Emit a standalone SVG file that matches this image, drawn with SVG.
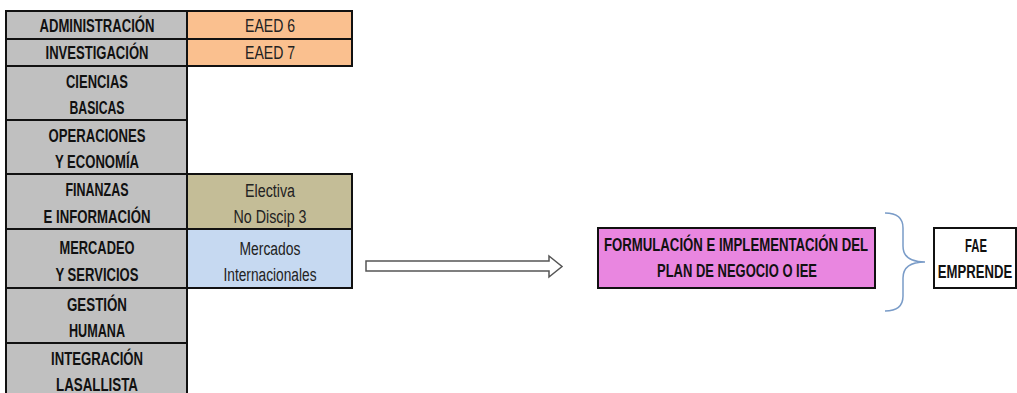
<svg xmlns="http://www.w3.org/2000/svg" width="1017" height="393" viewBox="0 0 1017 393">
<style>
.cell{stroke:#111;stroke-width:2}
.gray{fill:#c0c0c0}
.h{font-family:"Liberation Sans",Arial,sans-serif;font-weight:bold;font-size:18px;fill:#111;text-anchor:middle}
.r{font-family:"Liberation Sans",Arial,sans-serif;font-size:18px;fill:#222;text-anchor:middle}
</style>
<rect width="1017" height="393" fill="#fff"/>
<g id="table">
<g id="row-administracion">
<rect class="cell gray" x="6" y="11" width="181" height="28"/>
<rect class="cell" x="187" y="11" width="165" height="28" fill="#fac08f"/>
<text class="h" x="97" y="31.5" textLength="115" lengthAdjust="spacingAndGlyphs">ADMINISTRACIÓN</text>
<text class="r" x="270" y="32" textLength="50" lengthAdjust="spacingAndGlyphs">EAED 6</text>
</g>
<g id="row-investigacion">
<rect class="cell gray" x="6" y="39" width="181" height="27"/>
<rect class="cell" x="187" y="39" width="165" height="27" fill="#fac08f"/>
<text class="h" x="97" y="58.5" textLength="103" lengthAdjust="spacingAndGlyphs">INVESTIGACIÓN</text>
<text class="r" x="270" y="59" textLength="50" lengthAdjust="spacingAndGlyphs">EAED 7</text>
</g>
<g id="row-ciencias">
<rect class="cell gray" x="6" y="66" width="181" height="54"/>
<text class="h" x="97" y="88" textLength="62" lengthAdjust="spacingAndGlyphs">CIENCIAS</text>
<text class="h" x="97" y="114" textLength="55" lengthAdjust="spacingAndGlyphs">BASICAS</text>
</g>
<g id="row-operaciones">
<rect class="cell gray" x="6" y="120" width="181" height="54"/>
<text class="h" x="97" y="142" textLength="97" lengthAdjust="spacingAndGlyphs">OPERACIONES</text>
<text class="h" x="97" y="168" textLength="84" lengthAdjust="spacingAndGlyphs">Y ECONOMÍA</text>
</g>
<g id="row-finanzas">
<rect class="cell gray" x="6" y="174" width="181" height="55"/>
<rect class="cell" x="187" y="174" width="165" height="55" fill="#c4bd97"/>
<text class="h" x="97" y="196" textLength="63" lengthAdjust="spacingAndGlyphs">FINANZAS</text>
<text class="h" x="97" y="223" textLength="107" lengthAdjust="spacingAndGlyphs">E INFORMACIÓN</text>
<text class="r" x="270" y="197" textLength="50" lengthAdjust="spacingAndGlyphs">Electiva</text>
<text class="r" x="270" y="223" textLength="73" lengthAdjust="spacingAndGlyphs">No Discip 3</text>
</g>
<g id="row-mercadeo">
<rect class="cell gray" x="6" y="229" width="181" height="59"/>
<rect class="cell" x="187" y="229" width="165" height="59" fill="#c6d9f1"/>
<text class="h" x="97" y="254" textLength="75" lengthAdjust="spacingAndGlyphs">MERCADEO</text>
<text class="h" x="97" y="281" textLength="83" lengthAdjust="spacingAndGlyphs">Y SERVICIOS</text>
<text class="r" x="270" y="255" textLength="61" lengthAdjust="spacingAndGlyphs">Mercados</text>
<text class="r" x="270" y="281" textLength="93" lengthAdjust="spacingAndGlyphs">Internacionales</text>
</g>
<g id="row-gestion">
<rect class="cell gray" x="6" y="288" width="181" height="55"/>
<text class="h" x="97" y="311" textLength="60" lengthAdjust="spacingAndGlyphs">GESTIÓN</text>
<text class="h" x="97" y="337" textLength="56" lengthAdjust="spacingAndGlyphs">HUMANA</text>
</g>
<g id="row-integracion">
<rect class="cell gray" x="6" y="343" width="181" height="60"/>
<text class="h" x="97" y="365" textLength="92" lengthAdjust="spacingAndGlyphs">INTEGRACIÓN</text>
<text class="h" x="97" y="391" textLength="82" lengthAdjust="spacingAndGlyphs">LASALLISTA</text>
</g>
</g>
<g id="connectors">
<path d="M366 261 H549 V256 L562 266.5 L549 277 V271 H366 Z" fill="#fff" stroke="#555" stroke-width="1.5"/>
<path d="M885 213 Q903 213 903 228 V246 Q903 262 925 262 Q903 262 903 278 V296 Q903 311 885 311" fill="none" stroke="#7a9cc8" stroke-width="1.5"/>
</g>
<g id="node-plan">
<rect x="598" y="228" width="277" height="60" fill="#e986e0" stroke="#111" stroke-width="2"/>
<text class="h" x="736" y="251" font-size="17" textLength="264" lengthAdjust="spacingAndGlyphs">FORMULACIÓN E IMPLEMENTACIÓN DEL</text>
<text class="h" x="737" y="277" font-size="17" textLength="160" lengthAdjust="spacingAndGlyphs">PLAN DE NEGOCIO O IEE</text>
</g>
<g id="node-fae">
<rect x="934" y="228" width="82" height="60" fill="#fff" stroke="#111" stroke-width="2"/>
<text class="h" x="976" y="252" font-size="17" textLength="22" lengthAdjust="spacingAndGlyphs">FAE</text>
<text class="h" transform="translate(975 278) scale(0.73 1)" x="0" y="0" font-size="17">EMPRENDE</text>
</g>
</svg>
